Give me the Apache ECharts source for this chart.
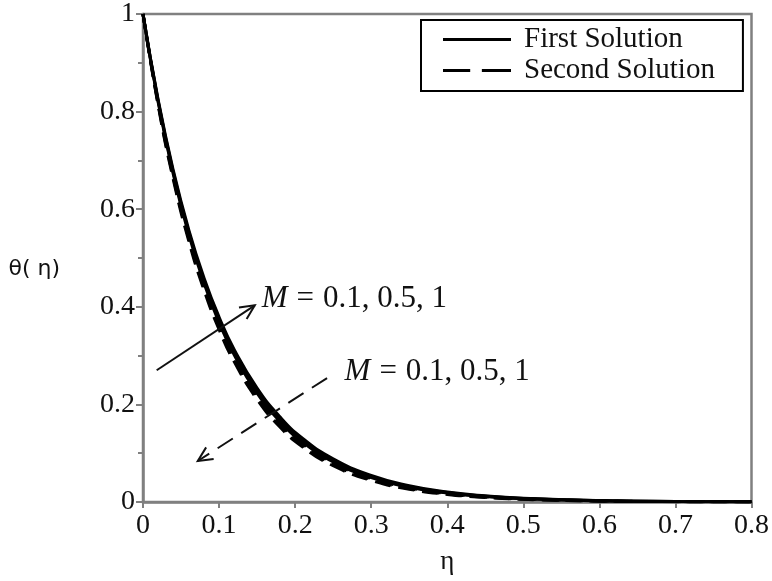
<!DOCTYPE html>
<html>
<head>
<meta charset="utf-8">
<script src="https://cdn.jsdelivr.net/npm/echarts@6/dist/echarts.min.js"></script>
<style>
  html, body { margin: 0; padding: 0; background: #fff; }
  #chart { width: 772px; height: 581px; }
</style>
</head>
<body>
<div id="chart"></div>
<script>
// eta grid shared by all curves
const eta = [0, 0.02, 0.04, 0.06, 0.08, 0.10, 0.12, 0.15, 0.18, 0.21, 0.25, 0.3, 0.35, 0.4, 0.45, 0.5, 0.6, 0.7, 0.8];

// first solution, M = 0.1, 0.5, 1
const first_M01 = [1, 0.8187, 0.6703, 0.5488, 0.4493, 0.3679, 0.3012, 0.2231, 0.1653, 0.1225, 0.0821, 0.0498, 0.0302, 0.0183, 0.0111, 0.0067, 0.0025, 0.0009, 0.0003];
const first_M05 = [1, 0.8212, 0.6744, 0.5538, 0.4548, 0.3734, 0.3067, 0.2282, 0.1698, 0.1264, 0.0852, 0.0521, 0.0318, 0.0194, 0.0119, 0.0073, 0.0027, 0.0010, 0.0004];
const first_M1 = [1, 0.8237, 0.6785, 0.5588, 0.4603, 0.3791, 0.3122, 0.2334, 0.1745, 0.1304, 0.0885, 0.0545, 0.0335, 0.0207, 0.0127, 0.0078, 0.0030, 0.0011, 0.0004];

// second solution, M = 0.1, 0.5, 1
const second_M01 = [1, 0.8171, 0.6676, 0.5455, 0.4457, 0.3642, 0.2976, 0.2198, 0.1624, 0.1199, 0.0801, 0.0483, 0.0292, 0.0176, 0.0106, 0.0064, 0.0023, 0.0008, 0.0003];
const second_M05 = [1, 0.8146, 0.6637, 0.5406, 0.4404, 0.3588, 0.2923, 0.2149, 0.1580, 0.1162, 0.0771, 0.0462, 0.0277, 0.0166, 0.0099, 0.0059, 0.0021, 0.0008, 0.0003];
const second_M1 = [1, 0.8122, 0.6597, 0.5358, 0.4352, 0.3535, 0.2871, 0.2101, 0.1538, 0.1126, 0.0743, 0.0442, 0.0263, 0.0156, 0.0093, 0.0055, 0.0019, 0.0007, 0.0002];

// annotation arrows [x1, y1, x2, y2, dashed]
const arrows = [
  [0.018, 0.270, 0.147, 0.403, 0],
  [0.242, 0.254, 0.072, 0.084, 1]
];
// annotation labels [x, y]
const notes = [
  [0.156, 0.417],
  [0.265, 0.266]
];
const noteText = '{m|M}{e|=}0.1, 0.5, 1';

const serif = '"Liberation Serif", "DejaVu Serif", serif';
const zip = ys => eta.map((x, i) => [x, ys[i]]);

const curve = (name, ys, dashed) => ({
  name: name,
  type: 'line',
  data: zip(ys),
  smooth: true,
  symbol: 'none',
  lineStyle: { color: '#000', width: 3, type: dashed ? [16, 8] : 'solid' },
  itemStyle: { color: '#000' },
  z: 3
});

const chart = echarts.init(document.getElementById('chart'));

const option = {
  animation: false,
  backgroundColor: '#fff',
  grid: {
    left: 143, top: 13, right: 17, bottom: 79,
    show: true, borderColor: '#808080', borderWidth: 2.5
  },
  legend: {
    data: [
      { name: 'First Solution', icon: 'path://M0,0H70V3H0Z' },
      { name: 'Second Solution', icon: 'path://M0,0H28V3H0Z M40,0H70V3H40Z' }
    ],
    orient: 'vertical',
    left: 421, top: 20,
    padding: [5, 28, 6, 22],
    itemGap: 2,
    itemWidth: 68, itemHeight: 3,
    backgroundColor: '#fff',
    borderColor: '#000', borderWidth: 2,
    itemStyle: { color: '#000' },
    textStyle: { fontFamily: serif, fontSize: 29, color: '#111', padding: [0, 0, 0, 8] }
  },
  xAxis: {
    type: 'value',
    min: 0, max: 0.8, interval: 0.1,
    name: 'η',
    nameLocation: 'middle',
    nameGap: 46,
    nameTextStyle: { fontFamily: serif, fontSize: 27, color: '#111' },
    axisLine: { show: true, onZero: false, lineStyle: { color: '#808080', width: 2.5 } },
    axisTick: { show: true, length: 6, lineStyle: { color: '#808080', width: 2 } },
    axisLabel: { fontFamily: serif, fontSize: 28, color: '#111', margin: 10 },
    splitLine: { show: false }
  },
  yAxis: {
    type: 'value',
    min: 0, max: 1, interval: 0.2,
    name: 'θ( η)',
    nameLocation: 'middle',
    nameRotate: 0,
    nameGap: 83,
    nameTextStyle: { fontFamily: '"DejaVu Sans", sans-serif', fontSize: 22, color: '#111', verticalAlign: 'top' },
    axisLine: { show: true, onZero: false, lineStyle: { color: '#808080', width: 2.5 } },
    axisTick: { show: true, length: 7, lineStyle: { color: '#808080', width: 2 } },
    minorTick: { show: true, splitNumber: 2, length: 5, lineStyle: { color: '#808080', width: 2 } },
    axisLabel: { fontFamily: serif, fontSize: 28, color: '#111', margin: 8 },
    splitLine: { show: false }
  },
  series: [
    curve('First Solution', first_M01, false),
    curve('First Solution', first_M05, false),
    curve('First Solution', first_M1, false),
    curve('Second Solution', second_M01, true),
    curve('Second Solution', second_M05, true),
    curve('Second Solution', second_M1, true),
    {
      type: 'custom',
      name: 'arrows',
      data: arrows,
      z: 4,
      renderItem: function (params, api) {
        const p1 = api.coord([api.value(0), api.value(1)]);
        const p2 = api.coord([api.value(2), api.value(3)]);
        const dashed = api.value(4) === 1;
        const ang = Math.atan2(p2[1] - p1[1], p2[0] - p1[0]);
        const len = 16, spread = 0.45;
        const h1 = [p2[0] - len * Math.cos(ang - spread), p2[1] - len * Math.sin(ang - spread)];
        const h2 = [p2[0] - len * Math.cos(ang + spread), p2[1] - len * Math.sin(ang + spread)];
        return {
          type: 'group',
          children: [
            {
              type: 'line',
              shape: { x1: p1[0], y1: p1[1], x2: p2[0], y2: p2[1] },
              style: { stroke: '#111', lineWidth: 2, lineDash: dashed ? [18, 10] : null }
            },
            {
              type: 'polyline',
              shape: { points: [h1, p2, h2] },
              style: { stroke: '#111', lineWidth: 2, fill: null }
            }
          ]
        };
      }
    },
    {
      type: 'custom',
      name: 'notes',
      data: notes,
      z: 4,
      renderItem: function (params, api) {
        const p = api.coord([api.value(0), api.value(1)]);
        return {
          type: 'text',
          x: p[0], y: p[1],
          style: {
            text: noteText,
            fontFamily: serif,
            fontSize: 31,
            fill: '#111',
            verticalAlign: 'middle',
            align: 'left',
            rich: {
              m: { fontFamily: serif, fontSize: 31, fontStyle: 'italic', fill: '#111' },
              e: { fontFamily: serif, fontSize: 31, fill: '#111', padding: [0, 9, 0, 9] }
            }
          }
        };
      }
    }
  ]
};

chart.setOption(option);
</script>
</body>
</html>
